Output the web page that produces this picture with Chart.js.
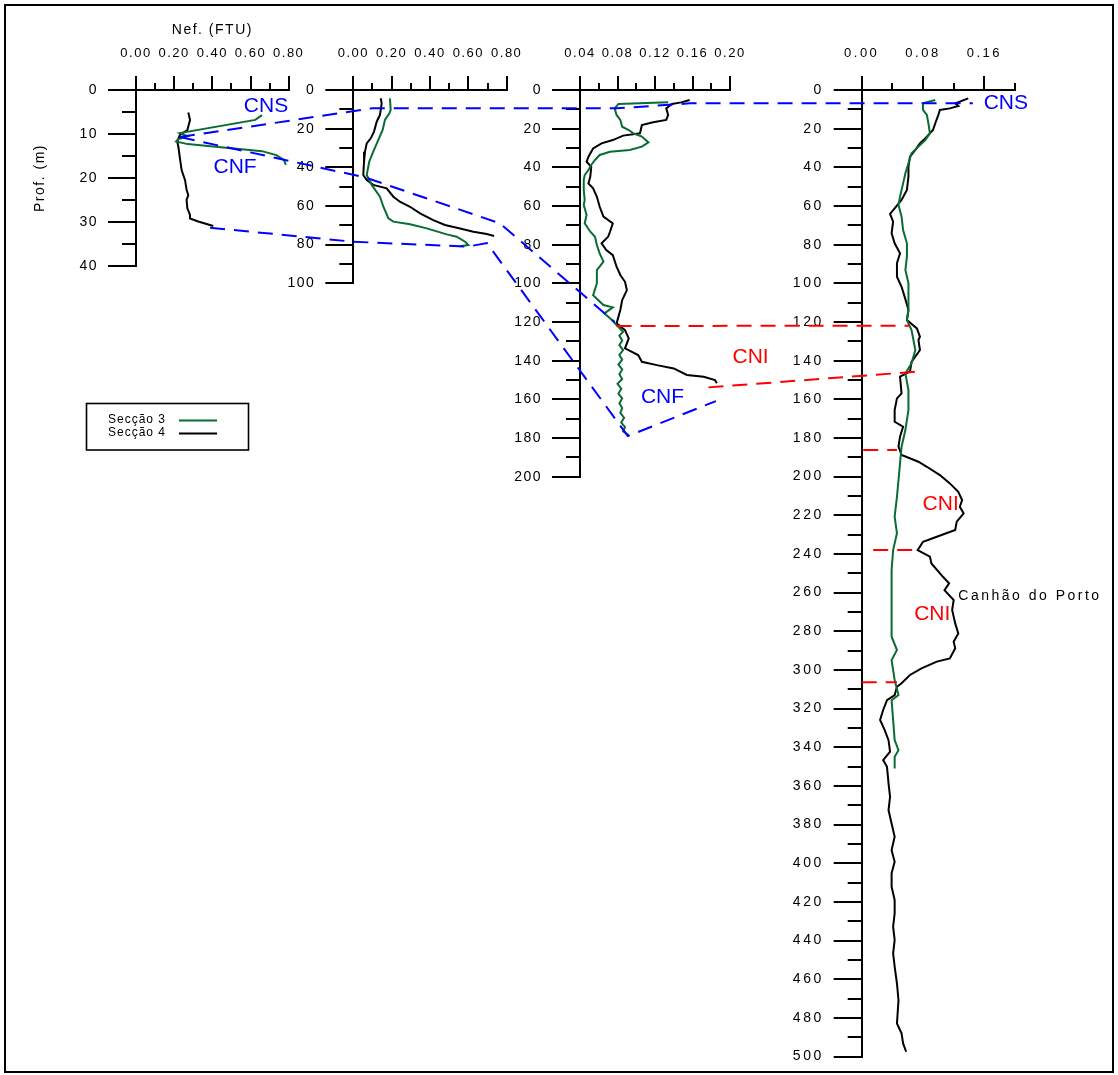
<!DOCTYPE html>
<html>
<head>
<meta charset="utf-8">
<title>Nefelometria – perfis</title>
<script src="https://cdn.jsdelivr.net/npm/chart.js@4.4.1/dist/chart.umd.min.js"></script>
<style>
  html, body { margin: 0; padding: 0; background: #fff; }
  #wrap { position: relative; width: 1118px; height: 1075px; overflow: hidden; background: #fff; }
  #wrap canvas { position: absolute; left: 0; top: 0; }
  #frame { position: absolute; left: 4px; top: 4px; width: 1106px; height: 1065px; border: 2px solid #000; pointer-events: none; }
</style>
</head>
<body>
<div id="wrap">
  <div id="frame"></div>
  <canvas id="c1" width="1118" height="1075"></canvas>
  <canvas id="c2" width="1118" height="1075"></canvas>
  <canvas id="c3" width="1118" height="1075"></canvas>
  <canvas id="c4" width="1118" height="1075"></canvas>
</div>
<script>
// ---------- profile data (depth in m, nefelometry in FTU) ----------
// panel 1
const p1Sec3Depth = [5.7, 6.8, 9.8, 10.5, 11.2, 11.7, 12.3, 13.9, 14.8, 15.9, 17.0];
const p1Sec3Nef   = [0.66, 0.625, 0.23, 0.27, 0.22, 0.21, 0.27, 0.66, 0.735, 0.775, 0.785];
const p1Sec4Depth = [5.1, 6.8, 9.1, 10.2, 11.7, 12.9, 15.5, 18.2, 20.5, 22.7, 23.9, 25.0, 26.9, 28.4, 29.2, 29.9, 30.9];
const p1Sec4Nef   = [0.274, 0.283, 0.269, 0.23, 0.216, 0.222, 0.23, 0.239, 0.257, 0.265, 0.274, 0.265, 0.269, 0.283, 0.283, 0.326, 0.405];

// panel 2
const p2Sec3Depth = [4.3, 10.3, 12.1, 15.5, 20.7, 25.9, 31.9, 37.1, 44.0, 49.1, 55.2, 60.4, 66.4, 68.1, 69.5, 71.6, 74.7, 75.9, 78.5, 80.2, 80.8];
const p2Sec3Nef   = [0.191, 0.195, 0.188, 0.165, 0.153, 0.130, 0.104, 0.083, 0.070, 0.096, 0.139, 0.157, 0.183, 0.209, 0.296, 0.383, 0.487, 0.539, 0.583, 0.600, 0.555];
const p2Sec4Depth = [4.3, 6.9, 12.9, 16.4, 21.6, 25.0, 27.6, 31.9, 37.1, 44.0, 46.6, 49.1, 50.9, 55.2, 57.8, 60.4, 63.8, 67.3, 69.8, 71.6, 73.3, 74.5, 75.5];
const p2Sec4Nef   = [0.143, 0.148, 0.139, 0.122, 0.108, 0.091, 0.070, 0.061, 0.056, 0.052, 0.070, 0.104, 0.174, 0.209, 0.243, 0.296, 0.348, 0.417, 0.478, 0.557, 0.626, 0.696, 0.734];

// panel 3
const p3Sec3Depth = [6.4, 7.2, 9.5, 12.9, 15.5, 19.0, 20.7, 22.4, 24.1, 27.1, 29.3, 31.0, 31.9, 33.6, 36.2, 38.8, 41.4, 44.0, 46.6, 51.7, 56.9, 59.5, 64.7, 69.0, 73.3, 75.9, 80.2, 84.5, 88.8, 93.1, 100.0, 106.1, 111.2, 112.4, 115.5, 119.0, 121.6, 125.0, 127.0, 129.5, 132.0, 134.5, 137.0, 139.5, 142.0, 144.5, 147.0, 149.5, 152.0, 154.5, 157.0, 159.5, 162.0, 164.5, 167.0, 169.5, 172.0, 174.2, 176.5, 178.5];
const p3Sec3Nef   = [0.134, 0.081, 0.077, 0.079, 0.083, 0.085, 0.092, 0.097, 0.106, 0.113, 0.106, 0.093, 0.072, 0.061, 0.056, 0.052, 0.049, 0.045, 0.044, 0.044, 0.045, 0.044, 0.047, 0.045, 0.051, 0.056, 0.058, 0.061, 0.065, 0.058, 0.058, 0.054, 0.065, 0.075, 0.066, 0.074, 0.079, 0.086, 0.082, 0.085, 0.082, 0.086, 0.082, 0.085, 0.081, 0.085, 0.082, 0.085, 0.080, 0.084, 0.081, 0.085, 0.082, 0.085, 0.083, 0.087, 0.084, 0.088, 0.086, 0.092];
const p3Sec4Depth = [5.2, 6.4, 7.2, 9.5, 12.9, 15.5, 16.7, 18.1, 22.4, 23.6, 25.9, 27.6, 30.2, 34.5, 37.1, 39.7, 44.8, 48.3, 50.9, 55.2, 60.4, 65.5, 69.0, 73.3, 75.9, 79.3, 82.8, 85.4, 91.4, 95.7, 99.2, 103.5, 108.6, 113.8, 120.7, 124.2, 128.5, 133.6, 137.1, 140.6, 142.3, 144.0, 147.4, 148.3, 150.0, 151.7];
const p3Sec4Nef   = [0.157, 0.148, 0.138, 0.132, 0.134, 0.132, 0.118, 0.106, 0.104, 0.086, 0.075, 0.063, 0.054, 0.049, 0.047, 0.052, 0.051, 0.049, 0.054, 0.058, 0.061, 0.065, 0.075, 0.072, 0.070, 0.063, 0.068, 0.075, 0.079, 0.083, 0.088, 0.090, 0.085, 0.083, 0.079, 0.088, 0.092, 0.088, 0.102, 0.106, 0.122, 0.140, 0.154, 0.172, 0.184, 0.186];

// panel 4
const p4Sec3Depth = [5.2, 6.9, 10.3, 12.9, 17.2, 22.4, 25.9, 29.3, 32.7, 37.9, 43.1, 48.3, 55.2, 59.5, 65.5, 72.4, 79.3, 86.2, 93.1, 100.0, 106.9, 113.8, 119.0, 124.2, 134.5, 141.4, 146.6, 155.2, 165.5, 175.9, 184.5, 193.1, 201.8, 210.4, 220.7, 229.3, 238.0, 248.3, 265.5, 282.8, 289.7, 294.9, 305.2, 313.0, 315.6, 325.9, 336.3, 341.5, 344.9, 351.0];
const p4Sec3Nef   = [0.096, 0.080, 0.080, 0.085, 0.087, 0.089, 0.083, 0.074, 0.065, 0.061, 0.057, 0.054, 0.050, 0.048, 0.052, 0.054, 0.059, 0.059, 0.057, 0.061, 0.061, 0.061, 0.059, 0.065, 0.070, 0.065, 0.057, 0.061, 0.061, 0.057, 0.052, 0.050, 0.048, 0.046, 0.043, 0.046, 0.041, 0.039, 0.039, 0.039, 0.046, 0.039, 0.043, 0.048, 0.039, 0.041, 0.043, 0.048, 0.043, 0.043];
const p4Sec4Depth = [4.3, 6.0, 6.9, 8.3, 9.5, 10.3, 12.9, 17.2, 20.7, 24.1, 27.6, 31.0, 34.5, 39.7, 44.8, 51.7, 56.9, 61.2, 64.1, 68.1, 74.1, 79.3, 84.5, 89.6, 96.6, 101.8, 106.9, 113.8, 119.0, 123.3, 127.6, 129.3, 134.5, 140.6, 145.7, 148.3, 156.9, 159.5, 165.5, 171.6, 174.2, 179.3, 184.5, 188.8, 192.3, 194.9, 199.2, 203.5, 207.8, 212.1, 215.6, 219.0, 223.3, 227.6, 231.1, 233.7, 238.0, 241.4, 244.9, 251.8, 255.2, 258.7, 263.8, 269.0, 275.9, 281.1, 285.4, 288.8, 294.0, 295.7, 299.2, 302.6, 306.9, 308.7, 313.0, 315.6, 320.7, 325.9, 331.1, 336.3, 342.3, 346.6, 350.1, 358.7, 365.6, 372.5, 379.4, 386.3, 393.2, 399.2, 405.2, 412.1, 419.0, 425.9, 432.8, 439.7, 446.6, 453.5, 462.2, 470.8, 482.9, 488.0, 493.2, 497.5];
const p4Sec4Nef   = [0.139, 0.128, 0.122, 0.126, 0.115, 0.102, 0.100, 0.096, 0.093, 0.085, 0.076, 0.070, 0.063, 0.061, 0.061, 0.059, 0.052, 0.043, 0.037, 0.041, 0.039, 0.043, 0.050, 0.046, 0.046, 0.052, 0.056, 0.061, 0.059, 0.072, 0.076, 0.074, 0.076, 0.065, 0.063, 0.050, 0.052, 0.046, 0.043, 0.043, 0.054, 0.050, 0.048, 0.052, 0.074, 0.085, 0.102, 0.115, 0.126, 0.131, 0.128, 0.133, 0.124, 0.122, 0.098, 0.080, 0.073, 0.089, 0.091, 0.106, 0.114, 0.108, 0.120, 0.118, 0.122, 0.126, 0.120, 0.122, 0.115, 0.098, 0.078, 0.063, 0.052, 0.046, 0.043, 0.033, 0.028, 0.024, 0.030, 0.035, 0.037, 0.028, 0.033, 0.035, 0.037, 0.035, 0.039, 0.043, 0.039, 0.043, 0.039, 0.039, 0.043, 0.043, 0.041, 0.043, 0.041, 0.043, 0.046, 0.048, 0.046, 0.052, 0.054, 0.058];

// ---------- axis ranges and ticks ----------
const p1XRange = [0, 0.8],   p1YRange = [0, 40];
const p2XRange = [0, 0.8],   p2YRange = [0, 100];
const p3XRange = [0.04, 0.2], p3YRange = [0, 200];
const p4XRange = [0, 0.2],   p4YRange = [0, 500];

const p1XMajor = [0, 0.2, 0.4, 0.6, 0.8];       const p1XMinor = [0.1, 0.3, 0.5, 0.7];
const p2XMajor = [0, 0.2, 0.4, 0.6, 0.8];       const p2XMinor = [0.1, 0.3, 0.5, 0.7];
const p3XMajor = [0.04, 0.08, 0.12, 0.16, 0.2]; const p3XMinor = [0.06, 0.1, 0.14, 0.18];
const p4XMajor = [0, 0.08, 0.16];               const p4XMinor = [0.04, 0.12, 0.2];

const p1YMajor = [0, 10, 20, 30, 40];           const p1YMinor = [5, 15, 25, 35];
const p2YMajor = [0, 20, 40, 60, 80, 100];      const p2YMinor = [10, 30, 50, 70, 90];
const p3YMajor = [0, 20, 40, 60, 80, 100, 120, 140, 160, 180, 200];
const p3YMinor = [10, 30, 50, 70, 90, 110, 130, 150, 170, 190];
const p4YMajor = [0, 20, 40, 60, 80, 100, 120, 140, 160, 180, 200, 220, 240, 260, 280, 300, 320, 340, 360, 380, 400, 420, 440, 460, 480, 500];
const p4YMinor = [10, 30, 50, 70, 90, 110, 130, 150, 170, 190, 210, 230, 250, 270, 290, 310, 330, 350, 370, 390, 410, 430, 450, 470, 490];

// ---------- water-mass connectors: [panel, FTU, depth] ----------
const linkCNS      = [[0, 0.23, 10.7], [1, 0.096, 9.5], [2, 0.079, 9.5], [2, 0.157, 6.9], [3, 0.145, 6.9]];
const linkCNFUpper = [[0, 0.23, 10.7], [1, 0.061, 45.2], [1, 0.765, 69.0], [2, 0.077, 120.0]];
const linkCNFLower = [[0, 0.388, 31.3], [1, 0.0, 78.5], [1, 0.598, 81.0], [1, 0.697, 79.2], [2, 0.091, 179.0], [2, 0.185, 160.9]];
const linkCNITop   = [[2, 0.079, 122.0], [3, 0.063, 122.0]];
const linkCNIBase  = [[2, 0.177, 153.8], [3, 0.072, 145.7]];
const cniLimit1    = [[3, 0.002, 186.2], [3, 0.046, 186.2]];
const cniLimit2    = [[3, 0.015, 238.0], [3, 0.072, 238.0]];
const cniLimit3    = [[3, 0.0, 306.4], [3, 0.046, 306.4]];

// ---------- text annotations ----------
const noteText  = ['CNS', 'CNF', 'CNF', 'CNS', 'CNI', 'CNI', 'CNI', 'Canhão do Porto'];
const notePanel = [0, 0, 2, 3, 2, 3, 3, 3];
const noteNef   = [0.681, 0.519, 0.128, 0.188, 0.222, 0.103, 0.092, 0.126];
const noteDepth = [3.75, 17.6, 159.1, 7.0, 138.4, 214.0, 271.1, 261.8];

// ---------- styling ----------
const FONT = 'Arial, "Liberation Sans", sans-serif';
const PAGE_W = 1118, PAGE_H = 1075;
const AXIS_TOP = 90;
const GREEN = '#0a6b33', BLACK = '#000000', BLUE = '#0000ff', RED = '#ff0000';
const noteColor = { CNS: BLUE, CNF: BLUE, CNI: RED };

const layoutBoxes = [
  { left: 136,   right: 288.7, bottom: 266,    yAxisWidth: 108, xAxisHeight: 70, spacing: '1.5px' },
  { left: 353.3, right: 506.7, bottom: 283.3,  yAxisWidth: 100, xAxisHeight: 60, spacing: '1.5px' },
  { left: 580,   right: 730,   bottom: 476.7,  yAxisWidth: 100, xAxisHeight: 60, spacing: '1.5px' },
  { left: 861.7, right: 1015,  bottom: 1056.7, yAxisWidth: 100, xAxisHeight: 60, spacing: '2.5px' }
];

const panelData = [
  { s3: [p1Sec3Depth, p1Sec3Nef], s4: [p1Sec4Depth, p1Sec4Nef], xr: p1XRange, yr: p1YRange, xMaj: p1XMajor, xMin: p1XMinor, yMaj: p1YMajor, yMin: p1YMinor },
  { s3: [p2Sec3Depth, p2Sec3Nef], s4: [p2Sec4Depth, p2Sec4Nef], xr: p2XRange, yr: p2YRange, xMaj: p2XMajor, xMin: p2XMinor, yMaj: p2YMajor, yMin: p2YMinor },
  { s3: [p3Sec3Depth, p3Sec3Nef], s4: [p3Sec4Depth, p3Sec4Nef], xr: p3XRange, yr: p3YRange, xMaj: p3XMajor, xMin: p3XMinor, yMaj: p3YMajor, yMin: p3YMinor },
  { s3: [p4Sec3Depth, p4Sec3Nef], s4: [p4Sec4Depth, p4Sec4Nef], xr: p4XRange, yr: p4YRange, xMaj: p4XMajor, xMin: p4XMinor, yMaj: p4YMajor, yMin: p4YMinor }
];

const toPoints = (depth, nef) => depth.map((d, i) => ({ x: nef[i], y: d }));
const tickList = values => values.map(v => ({ value: v }));

const charts = [];

function pointPixel(chart, pt) {
  const ch = charts[pt[0]] || chart;
  return [ch.scales.x.getPixelForValue(pt[1]), ch.scales.y.getPixelForValue(pt[2])];
}

function strokeLink(chart, ctx, pts, color) {
  ctx.strokeStyle = color;
  ctx.beginPath();
  pts.forEach((pt, i) => {
    const [px, py] = pointPixel(chart, pt);
    if (i === 0) ctx.moveTo(px, py); else ctx.lineTo(px, py);
  });
  ctx.stroke();
}

// per-chart text spacing (the axis labels are drawn letter-spaced)
const spacingPlugin = {
  id: 'textSpacing',
  beforeDraw(chart, args, opts) { chart.ctx.letterSpacing = opts.spacing || '0px'; }
};

// legend box with line samples to the right of the labels
const sectionLegend = {
  id: 'sectionLegend',
  afterDraw(chart) {
    const ctx = chart.ctx;
    ctx.save();
    ctx.setLineDash([]);
    ctx.letterSpacing = '1px';
    ctx.strokeStyle = '#000';
    ctx.lineWidth = 1.6;
    ctx.strokeRect(86.5, 403.5, 162, 46.5);
    ctx.font = '12px ' + FONT;
    ctx.textBaseline = 'middle';
    ctx.textAlign = 'left';
    chart.data.datasets.forEach((ds, i) => {
      const y = 420 + i * 13;
      ctx.fillStyle = '#000';
      ctx.fillText(ds.label, 108, y);
      ctx.strokeStyle = ds.borderColor;
      ctx.lineWidth = 2;
      ctx.beginPath();
      ctx.moveTo(179, y + 0.5);
      ctx.lineTo(217, y + 0.5);
      ctx.stroke();
    });
    ctx.restore();
  }
};

// dashed connectors between panels and the water-mass names
const massOverlay = {
  id: 'massOverlay',
  afterDraw(chart) {
    const ctx = chart.ctx;
    ctx.save();
    ctx.letterSpacing = '0px';
    ctx.lineWidth = 2;
    ctx.lineJoin = 'miter';
    ctx.setLineDash([15, 9]);
    [linkCNS, linkCNFUpper, linkCNFLower].forEach(l => strokeLink(chart, ctx, l, BLUE));
    [linkCNITop, linkCNIBase, cniLimit1, cniLimit2, cniLimit3].forEach(l => strokeLink(chart, ctx, l, RED));
    ctx.setLineDash([]);
    ctx.textBaseline = 'middle';
    noteText.forEach((t, i) => {
      const [px, py] = pointPixel(chart, [notePanel[i], noteNef[i], noteDepth[i]]);
      if (noteColor[t]) {
        ctx.font = '21px ' + FONT;
        ctx.textAlign = 'center';
        ctx.letterSpacing = '0px';
        ctx.fillStyle = noteColor[t];
      } else {
        ctx.font = '14px ' + FONT;
        ctx.textAlign = 'left';
        ctx.letterSpacing = '2.5px';
        ctx.fillStyle = BLACK;
      }
      ctx.fillText(t, px, py);
    });
    ctx.restore();
  }
};

function makePanel(idx) {
  const box = layoutBoxes[idx];
  const pd = panelData[idx];
  const first = idx === 0;
  const tickFont = { family: FONT, size: 14 };
  const xLabelFont = { family: FONT, size: 13 };
  const plugins = [spacingPlugin];
  if (first) plugins.push(sectionLegend);
  if (idx === 3) plugins.push(massOverlay);

  return new Chart(document.getElementById('c' + (idx + 1)), {
    type: 'scatter',
    data: {
      datasets: [
        { label: 'Secção 3', data: toPoints(pd.s3[0], pd.s3[1]), borderColor: GREEN, backgroundColor: GREEN,
          showLine: true, pointRadius: 0, borderWidth: 2, tension: 0, xAxisID: 'x', yAxisID: 'y' },
        { label: 'Secção 4', data: toPoints(pd.s4[0], pd.s4[1]), borderColor: BLACK, backgroundColor: BLACK,
          showLine: true, pointRadius: 0, borderWidth: 2, tension: 0, xAxisID: 'x', yAxisID: 'y' }
      ]
    },
    plugins,
    options: {
      responsive: false,
      animation: false,
      events: [],
      clip: false,
      layout: {
        padding: {
          left: box.left - box.yAxisWidth,
          top: AXIS_TOP - box.xAxisHeight,
          right: PAGE_W - box.right,
          bottom: PAGE_H - box.bottom
        }
      },
      plugins: {
        legend: { display: false },
        tooltip: { enabled: false },
        textSpacing: { spacing: box.spacing }
      },
      scales: {
        x: {
          type: 'linear', position: 'top', min: pd.xr[0], max: pd.xr[1], weight: 1,
          afterBuildTicks: s => { s.ticks = tickList(pd.xMaj); },
          afterFit: s => { s.height = box.xAxisHeight; },
          grid: { drawOnChartArea: false, tickLength: 14, tickWidth: 2, tickColor: '#000', lineWidth: 2 },
          border: { display: true, color: '#000', width: 2 },
          ticks: { color: '#000', font: xLabelFont, padding: 15, maxRotation: 0, autoSkip: false,
                   callback: v => Number(v).toFixed(2) },
          title: { display: first, text: 'Nef. (FTU)', color: '#000', font: { family: FONT, size: 14 }, padding: { top: 2, bottom: 0 } }
        },
        xm: {
          type: 'linear', position: 'top', min: pd.xr[0], max: pd.xr[1], weight: 0,
          afterBuildTicks: s => { s.ticks = tickList(pd.xMin); },
          afterFit: s => { s.height = 0; },
          grid: { drawOnChartArea: false, tickLength: 7, tickWidth: 2, tickColor: '#000', lineWidth: 2 },
          border: { display: false },
          ticks: { display: false }
        },
        y: {
          type: 'linear', position: 'left', reverse: true, min: pd.yr[0], max: pd.yr[1], weight: 1,
          afterBuildTicks: s => { s.ticks = tickList(pd.yMaj); },
          afterFit: s => { s.width = box.yAxisWidth; },
          grid: { drawOnChartArea: false, tickLength: 28, tickWidth: 2, tickColor: '#000', lineWidth: 2 },
          border: { display: true, color: '#000', width: 2 },
          ticks: { color: '#000', font: tickFont, padding: 10, autoSkip: false, callback: v => String(v) },
          title: { display: first, text: 'Prof. (m)', color: '#000', font: { family: FONT, size: 14 } }
        },
        ym: {
          type: 'linear', position: 'left', reverse: true, min: pd.yr[0], max: pd.yr[1], weight: 0,
          afterBuildTicks: s => { s.ticks = tickList(pd.yMin); },
          afterFit: s => { s.width = 0; },
          grid: { drawOnChartArea: false, tickLength: 14, tickWidth: 2, tickColor: '#000', lineWidth: 2 },
          border: { display: false },
          ticks: { display: false }
        }
      }
    }
  });
}

for (let i = 0; i < 4; i++) charts.push(makePanel(i));
</script>
</body>
</html>
